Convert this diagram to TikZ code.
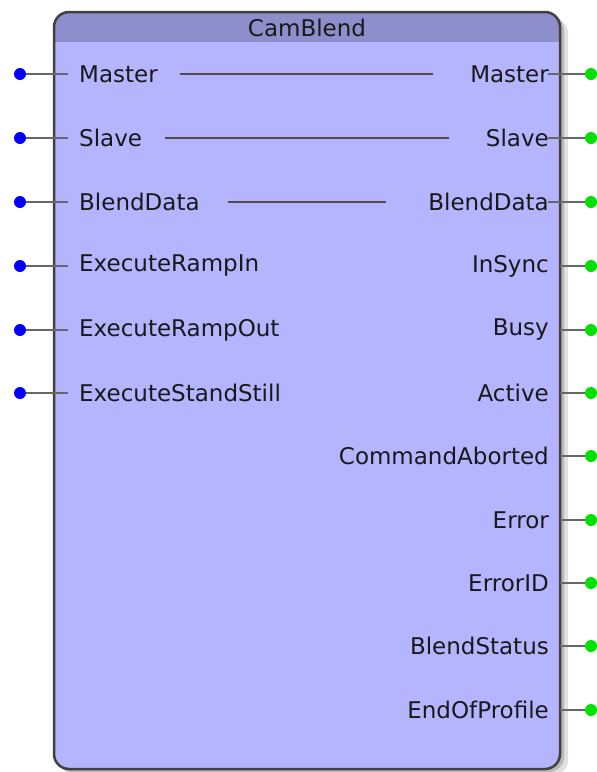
\documentclass[tikz,border=0pt]{standalone}
\usepackage{fontspec}
\setmainfont{DejaVu Sans}
\begin{document}
\begin{tikzpicture}[x=1pt,y=-1pt,
  lbl/.style={font=\fontsize{23}{25}\selectfont, text=black!90, inner sep=0pt},
  pin/.style={draw=black!60, line width=2pt},
  inl/.style={draw=black!70, line width=2pt},
  bdot/.style={circle, fill=blue, inner sep=0pt, minimum size=12pt},
  gdot/.style={circle, fill={rgb,255:red,0;green,225;blue,0}, inner sep=0pt, minimum size=12pt}]
\useasboundingbox (0,0) rectangle (597,772);
% shadow
\fill[black!12, rounded corners=15pt] (60,18) rectangle (568,775);
\fill[black!28, rounded corners=15pt] (57,15) rectangle (564,772);
% body
\begin{scope}
\clip[rounded corners=15pt] (54,12) rectangle (560,769);
\fill[fill={rgb,255:red,180;green,180;blue,255}] (54,12) rectangle (560,769);
\fill[fill={rgb,255:red,142;green,142;blue,204}] (54,12) rectangle (560,42);
\end{scope}
\draw[black!75, line width=2.5pt, rounded corners=15pt] (54,12) rectangle (560,769);
\node[lbl] (title) at (307,28) {CamBlend};
% left inputs
\foreach \n/\t/\y in {iA/Master/74, iB/Slave/138, iC/BlendData/202, iD/ExecuteRampIn/266, iE/ExecuteRampOut/330, iF/ExecuteStandStill/393}{
  \node[lbl, anchor=west] (\n) at (79,\y) {\t};
  \node[bdot] (\n d) at (20,\y) {};
  \coordinate (\n e) at (68,\y);
  \draw[pin] (\n d) -- (\n e);
}
% right outputs
\foreach \n/\t/\y/\s in {oA/Master/74/548, oB/Slave/138/548, oC/BlendData/202/548, oD/InSync/266/560, oE/Busy/330/560, oF/Active/393/560, oG/CommandAborted/456/560, oH/Error/520/560, oI/ErrorID/583/560, oJ/BlendStatus/646/560, oK/EndOfProfile/710/560}{
  \node[lbl, anchor=east] (\n) at (549,\y) {\t};
  \node[gdot] (\n d) at (591,\y) {};
  \coordinate (\n e) at (\s,\y);
  \draw[pin] (\n e) -- (\n d);
}
% internal through lines
\coordinate (mA) at (180,74); \coordinate (nA) at (433,74);
\coordinate (mB) at (165,138); \coordinate (nB) at (449,138);
\coordinate (mC) at (228,202); \coordinate (nC) at (386,202);
\draw[inl] (mA) -- (nA);
\draw[inl] (mB) -- (nB);
\draw[inl] (mC) -- (nC);
\end{tikzpicture}
\end{document}
